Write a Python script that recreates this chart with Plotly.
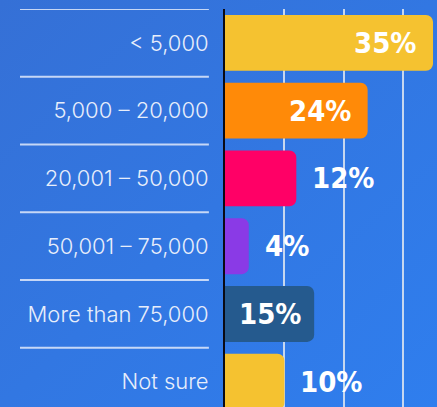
import base64
import plotly.graph_objects as go

categories = ["< 5,000", "5,000 – 20,000", "20,001 – 50,000", "50,001 – 75,000",
              "More than 75,000", "Not sure"]
values = [35, 24, 12, 4, 15, 10]
bar_colors = ["#F5C230", "#FF8A08", "#FF0066", "#8A3AE6", "#255A8E", "#F5C230"]
# label placement style per bar
label_place = ["inside_end", "inside_end", "outside", "outside", "center", "outside"]

BG1, BG2 = "#3570D6", "#2F7EEE"
svg = f'''<svg xmlns="http://www.w3.org/2000/svg" width="437" height="407">
<defs><linearGradient id="g" x1="0" y1="0" x2="1" y2="1">
<stop offset="0" stop-color="{BG1}"/><stop offset="1" stop-color="{BG2}"/></linearGradient></defs>
<rect width="437" height="407" fill="url(#g)"/></svg>'''
bg_uri = "data:image/svg+xml;base64," + base64.b64encode(svg.encode()).decode()

LABEL_FONT = "'DejaVu Sans Condensed', 'Liberation Sans Narrow', 'Roboto Condensed', sans-serif"

fig = go.Figure()
fig.add_trace(go.Bar(
    x=values, y=categories, orientation="h",
    marker=dict(color=bar_colors, line=dict(width=0)),
    hoverinfo="skip",
))

annotations = []
for cat, v, place in zip(categories, values, label_place):
    if place == "inside_end":
        ax, anchor, shift = v, "right", -15
    elif place == "center":
        ax, anchor, shift = v / 2, "center", 0
    else:
        ax, anchor, shift = v, "left", 14
    annotations.append(dict(
        x=ax, y=cat, xref="x", yref="y", text=f"{v}%", showarrow=False,
        xanchor=anchor, yanchor="middle", xshift=shift,
        font=dict(family=LABEL_FONT, size=29, color="white", weight="bold"),
    ))

shapes = []
for i in range(len(categories)):
    shapes.append(dict(
        type="line", xref="paper", yref="y", x0=-0.967, x1=-0.076,
        y0=i - 0.5, y1=i - 0.5, line=dict(color="rgba(225,233,250,0.85)", width=2),
    ))

fig.update_layout(
    width=437, height=407,
    margin=dict(l=225, r=0, t=9, b=0),
    paper_bgcolor=BG1, plot_bgcolor="rgba(0,0,0,0)",
    bargap=0.175, barcornerradius=7,
    showlegend=False,
    annotations=annotations, shapes=shapes,
    images=[dict(source=bg_uri, xref="paper", yref="paper", x=-225/212, y=1 + 9/398,
                 sizex=437/212, sizey=407/398, xanchor="left", yanchor="top",
                 sizing="stretch", layer="below")],
    xaxis=dict(range=[0, 35.67], showticklabels=False, showgrid=True,
               gridcolor="rgba(215,225,240,0.9)", gridwidth=2, dtick=10,
               zeroline=False, showline=False, fixedrange=True),
    yaxis=dict(type="category", categoryorder="array", categoryarray=categories,
               range=[5.373, -0.5], showgrid=False, zeroline=False,
               showline=True, linecolor="#0a0a14", linewidth=2,
               ticks="", ticklabelstandoff=10,
               tickfont=dict(family="Inter", size=22, color="#E8EEFB", weight=300)),
)

fig.write_html("out.html", config={"displayModeBar": False, "staticPlot": True},
               post_script="document.body.style.margin='0';document.body.style.overflow='hidden';")
